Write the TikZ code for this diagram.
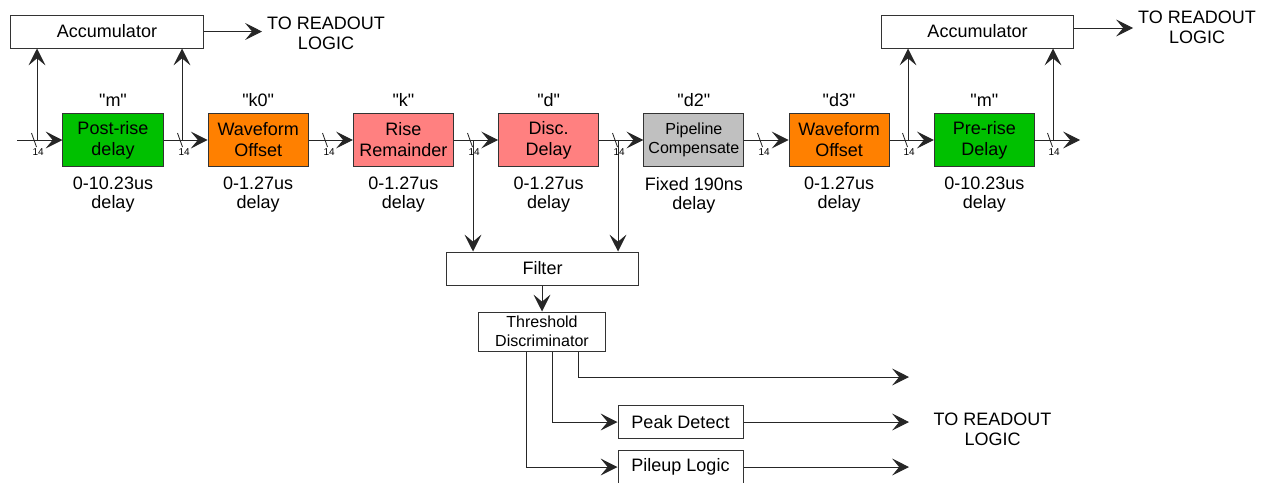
\documentclass[tikz,border=0pt]{standalone}
\usepackage{fontspec}
\setmainfont{Liberation Sans}[Ligatures=TeXOff]
\usepackage{xcolor}
\usepackage{tikz}
\usetikzlibrary{positioning,calc,arrows.meta,chains}
\definecolor{PostGreen}{RGB}{0,192,0}
\definecolor{WaveOrange}{RGB}{255,128,0}
\definecolor{RisePink}{RGB}{255,128,128}
\definecolor{PipeGrey}{RGB}{192,192,192}
\newcommand{\stagefont}{\fontsize{12.8pt}{15pt}\selectfont}
\newcommand{\notefont}{\fontsize{12.8pt}{13.5pt}\selectfont}
\newcommand{\readfont}{\fontsize{12.8pt}{14.2pt}\selectfont}
\newcommand{\subfont}{\fontsize{11.4pt}{13.8pt}\selectfont}
\newcommand{\busfont}{\fontsize{7.1pt}{8pt}\selectfont}
\tikzset{
    stage/.style={draw=black!80, line width=0.7pt, minimum width=2.5cm, minimum height=1.325cm, align=center, inner sep=1pt, font=\stagefont, on chain=1},
    accbox/.style={draw=black!80, fill=white, line width=0.7pt, minimum width=4.8cm, minimum height=0.825cm, font=\stagefont},
    readtxt/.style={font=\readfont, align=center, inner sep=0pt},
    logicbox/.style={draw=black!80, line width=0.7pt, minimum width=3.125cm, minimum height=0.825cm, font=\stagefont}
}
\begin{document}
\begin{tikzpicture}[
        x=0.025cm, y=-0.025cm,
        % Mũi tên nối các khối
        arr/.style={-{Stealth[length=12pt,width=12pt,inset=5pt]}, draw=black!85, line width=0.7pt},
        % Vạch chéo trên bus 14 bit
        busmark/.style={draw=black!85, line width=0.6pt},
        buslab/.style={font=\busfont, anchor=north, inner sep=0.5pt, xshift=0.04cm},
        % Nhãn trên / dưới mỗi khối
        toplab/.style={font=\notefont, inner sep=0pt, label distance=4.3pt},
        botlab/.style={font=\notefont, inner sep=0pt, align=center, label distance=7pt}
    ]
        \useasboundingbox (0,0) rectangle (1267,482);

        % --- 1. CHUỖI KHỐI TRỄ ---
        \begin{scope}[shift={(113,140)}, start chain=1 going right, node distance=1.105cm]
            \node[stage, fill=PostGreen, label={[toplab]above:"m"}, label={[botlab]below:{0-10.23us\\delay}}] (post) {Post-rise\\delay};
            \node[stage, fill=WaveOrange, label={[toplab]above:"k0"}, label={[botlab]below:{0-1.27us\\delay}}] (wf0) {Waveform\\Offset};
            \node[stage, fill=RisePink, label={[toplab]above:"k"}, label={[botlab]below:{0-1.27us\\delay}}] (rise) {Rise\\Remainder};
            \node[stage, fill=RisePink, label={[toplab]above:"d"}, label={[botlab]below:{0-1.27us\\delay}}] (disc) {Disc.\\Delay};
            \node[stage, fill=PipeGrey, font=\subfont, label={[toplab]above:"d2"}, label={[botlab]below:{Fixed 190ns\\delay}}] (pipe) {Pipeline\\Compensate};
            \node[stage, fill=WaveOrange, label={[toplab]above:"d3"}, label={[botlab]below:{0-1.27us\\delay}}] (wf3) {Waveform\\Offset};
            \node[stage, fill=PostGreen, label={[toplab]above:"m"}, label={[botlab]below:{0-10.23us\\delay}}] (pre) {Pre-rise\\Delay};
        \end{scope}

        % --- 2. BỘ TÍCH LŨY ---
        \node[accbox] (accL) at (107,31.5) {Accumulator};
        \node[accbox] (accR) at (977.5,31.5) {Accumulator};
        \node[readtxt] (rdL) at (326,33) {TO READOUT\\LOGIC};
        \node[readtxt] (rdR) at (1197,27) {TO READOUT\\LOGIC};

        % --- 3. BỘ LỌC VÀ NGƯỠNG ---
        \node[accbox, minimum width=4.775cm] (filter) at (542.5,268.5) {Filter};
        \node[accbox, font=\subfont, align=center, minimum width=3.15cm, minimum height=0.975cm, inner sep=1pt] (thresh) at (542,331.5) {Threshold\\Discriminator};
        \node[logicbox] (peak) at (680.5,422) {Peak Detect};
        \node[logicbox] (pileup) at (680.5,467) {Pileup Logic};
        \node[readtxt] (rdB) at (992.5,429.5) {TO READOUT\\LOGIC};

        % Điểm rẽ nhánh trên đường tín hiệu
        \coordinate (inM) at (17,140);
        \coordinate (outM) at (1080,140);
        \coordinate (tapA) at (37,140);
        \coordinate (tapB) at (182,140);
        \coordinate (tapC) at (473,140);
        \coordinate (tapD) at (618,140);
        \coordinate (tapE) at (908,140);
        \coordinate (tapF) at (1053,140);
        \coordinate (outL) at (262,31.5);
        \coordinate (outR) at (1133,28);
        \coordinate (outA) at (909,377);

        % --- 4. ĐƯỜNG NỐI ---
        \draw[arr] (inM) -- (post);
        \draw[arr] (post) -- (wf0);
        \draw[arr] (wf0) -- (rise);
        \draw[arr] (rise) -- (disc);
        \draw[arr] (disc) -- (pipe);
        \draw[arr] (pipe) -- (wf3);
        \draw[arr] (wf3) -- (pre);
        \draw[arr] (pre) -- (outM);

        \draw[arr] (tapA) -- (tapA |- accL.south);
        \draw[arr] (tapB) -- (tapB |- accL.south);
        \draw[arr] (tapE) -- (tapE |- accR.south);
        \draw[arr] (tapF) -- (tapF |- accR.south);
        \draw[arr] (accL.east) -- (outL);
        \draw[arr] (accR.east |- outR) -- (outR);

        \draw[arr] (tapC) -- (tapC |- filter.north);
        \draw[arr] (tapD) -- (tapD |- filter.north);
        \draw[arr] (filter.south -| thresh.north) -- (thresh.north);

        \draw[arr] ($(thresh.south)+(36,0)$) |- (outA);
        \draw[arr] ($(thresh.south)+(10,0)$) |- (peak.west);
        \draw[arr] ($(thresh.south)+(-16,0)$) |- (pileup.west);
        \draw[arr] (peak.east) -- (peak.east -| outA);
        \draw[arr] (pileup.east) -- (pileup.east -| outA);

        % Vạch bus 14 bit
        \draw[busmark] (31.5,133) -- (36.5,147) node[buslab] {14};
        \draw[busmark] (177.5,133) -- (182.5,147) node[buslab] {14};
        \draw[busmark] (322.5,133) -- (327.5,147) node[buslab] {14};
        \draw[busmark] (467.5,133) -- (472.5,147) node[buslab] {14};
        \draw[busmark] (612.5,133) -- (617.5,147) node[buslab] {14};
        \draw[busmark] (757.5,133) -- (762.5,147) node[buslab] {14};
        \draw[busmark] (902.5,133) -- (907.5,147) node[buslab] {14};
        \draw[busmark] (1047.5,133) -- (1052.5,147) node[buslab] {14};

    \end{tikzpicture}
\end{document}
